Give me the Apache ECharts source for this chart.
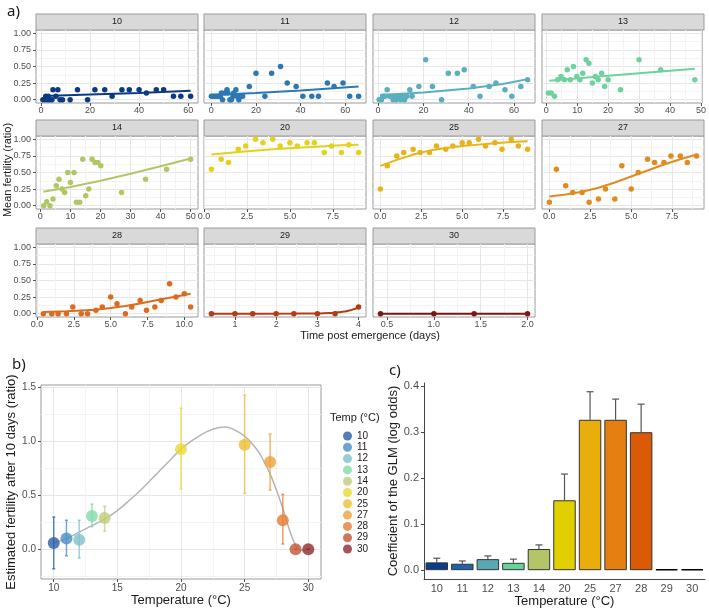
<!DOCTYPE html>
<html>
<head>
<meta charset="utf-8">
<script src="https://cdn.jsdelivr.net/npm/echarts@6/dist/echarts.min.js"></script>
<style>
html, body { margin: 0; padding: 0; background: #fff; }
#chart { width: 709px; height: 609px; }
</style>
</head>
<body>
<div id="chart"></div>
<script>
// temperatures (facets, points, bars)
const temps = ['10', '11', '12', '13', '14', '20', '25', '27', '28', '29', '30']

// a) mean fertility per day, one list of [day, ratio] per temperature
const f10Pts = [[0.8, 0], [1.7, 0], [2.7, 0], [3.5, 0], [4.5, 0], [2, 0.05], [3, 0.05], [4.9, 0.15], [6.1, 0.05], [6.9, 0.15], [7.8, 0], [8.8, 0], [11.9, 0], [14.9, 0.15], [19, 0], [22, 0.15], [26, 0.15], [29, 0.05], [33, 0.15], [36, 0.15], [40, 0.15], [43, 0.1], [47, 0.15], [50, 0.15], [54, 0.05], [57, 0.05], [61, 0.05]]
const f11Pts = [[0, 0.05], [0.8, 0.05], [1.6, 0.05], [2.4, 0.05], [3.2, 0.05], [4, 0.05], [4.5, 0.1], [5, 0], [6, 0.1], [7, 0.15], [7.4, 0.1], [8.3, 0], [9, 0], [9.7, 0.05], [10, 0.1], [11, 0.15], [11.5, 0.05], [12.3, 0], [13, 0.05], [14, 0.05], [17, 0.2], [20, 0.4], [24, 0.05], [27, 0.4], [31, 0.5], [34, 0.25], [38, 0.2], [41, 0.05], [45, 0.05], [48, 0.05], [52, 0.25], [55, 0.2], [59, 0.25], [62, 0.05], [66, 0.05]]
const f12Pts = [[0.5, 0], [1.5, 0], [2, 0.05], [3, 0.05], [4, 0.15], [5, 0.05], [6.6, 0], [7.3, 0.05], [8, 0], [9.2, 0.05], [10, 0], [11, 0.05], [11.7, 0], [12.7, 0.05], [14, 0.15], [15, 0.05], [18, 0.2], [21, 0.6], [24, 0.2], [28, 0], [31, 0.4], [35, 0.4], [38, 0.45], [42, 0.2], [45, 0.05], [49, 0.2], [52, 0.25], [56, 0.15], [59, 0.05], [63, 0.2], [66, 0.3]]
const f13Pts = [[0.7, 0.1], [1.6, 0.1], [2.7, 0.05], [3.7, 0.3], [4.8, 0.35], [5.9, 0.3], [6.8, 0.45], [7.8, 0.3], [8.8, 0.5], [9.9, 0.35], [10.9, 0.3], [11.8, 0.4], [12.9, 0.6], [13.8, 0.55], [14.9, 0.25], [15.9, 0.35], [16.8, 0.3], [17.9, 0.4], [18.9, 0.2], [20, 0.3], [24, 0.15], [30, 0.6], [37, 0.45], [48, 0.3]]
const f14Pts = [[1.1, 0], [2.1, 0.06], [3.2, 0], [4.2, 0.1], [5.3, 0.3], [6.2, 0.4], [7.2, 0.25], [8.1, 0.2], [9.1, 0.5], [10, 0.35], [11.2, 0.5], [12, 0.05], [13.1, 0.05], [14.1, 0.7], [15.1, 0.15], [16.1, 0.25], [17.2, 0.7], [18.2, 0.65], [19.1, 0.65], [20.1, 0.6], [27, 0.2], [35, 0.4], [42, 0.55], [50, 0.7]]
const f20Pts = [[0.43, 0.55], [1, 0.7], [1.43, 0.65], [2, 0.85], [2.43, 0.9], [3, 1], [3.43, 0.95], [4, 1], [4.43, 0.9], [5, 0.95], [5.43, 0.9], [6, 0.95], [6.43, 0.95], [7, 0.8], [7.43, 0.9], [8, 0.8], [8.43, 0.92], [9, 0.8]]
const f25Pts = [[0, 0.25], [0.43, 0.6], [1, 0.75], [1.43, 0.8], [2, 0.85], [2.43, 0.8], [3, 0.8], [3.43, 0.9], [4, 0.85], [4.43, 0.9], [5, 0.95], [5.43, 0.95], [6, 1], [6.43, 0.9], [7, 0.95], [7.43, 0.85], [8, 1], [8.43, 0.9], [9, 0.85]]
const f27Pts = [[0, 0.05], [0.43, 0.55], [1, 0.3], [1.43, 0.2], [2, 0.2], [2.43, 0.05], [3, 0.1], [3.43, 0.25], [4, 0.1], [4.43, 0.6], [5, 0.25], [5.43, 0.5], [6, 0.7], [6.43, 0.65], [7, 0.65], [7.43, 0.75], [8, 0.75], [8.43, 0.65], [9, 0.75]]
const f28Pts = [[0.43, 0], [1, 0], [1.43, 0], [2, 0], [2.43, 0.1], [3, 0], [3.43, 0], [4, 0.05], [4.43, 0.1], [5, 0.25], [5.43, 0.15], [6, 0], [6.43, 0.1], [7, 0.2], [7.43, 0.05], [8, 0.1], [8.43, 0.2], [9, 0.45], [9.43, 0.25], [10, 0.3], [10.43, 0.1]]
const f29Pts = [[0.43, 0], [1, 0], [1.43, 0], [2, 0], [2.43, 0], [3, 0], [3.43, 0], [4, 0.1]]
const f30Pts = [[0.43, 0], [1, 0], [1.43, 0], [2, 0]]

// a) fitted curves
const f10Fit = [[1, 0.055], [20, 0.077], [40, 0.102], [61, 0.133]]
const f11Fit = [[0, 0.07], [20, 0.1], [40, 0.14], [66, 0.2]]
const f12Fit = [[1, 0.07], [20, 0.11], [40, 0.17], [55, 0.235], [66, 0.31]]
const f13Fit = [[1, 0.285], [20, 0.36], [48, 0.465]]
const f14Fit = [[1, 0.21], [10, 0.28], [20, 0.375], [30, 0.48], [40, 0.595], [50, 0.71]]
const f20Fit = [[0.43, 0.77], [2, 0.81], [4, 0.85], [6, 0.88], [8, 0.91], [9, 0.92]]
const f25Fit = [[0, 0.6], [1, 0.69], [2, 0.77], [3, 0.83], [4, 0.87], [5, 0.9], [6, 0.92], [7, 0.94], [8, 0.96], [9, 0.97]]
const f27Fit = [[0, 0.14], [1, 0.17], [2, 0.21], [3, 0.27], [4, 0.35], [5, 0.44], [6, 0.53], [7, 0.62], [8, 0.7], [9, 0.77]]
const f28Fit = [[0.43, 0.025], [2, 0.035], [4, 0.06], [5, 0.085], [6, 0.115], [7, 0.155], [8, 0.2], [9, 0.24], [10, 0.28], [10.43, 0.3]]
const f29Fit = [[0.43, 0], [2.5, 0.001], [3, 0.004], [3.3, 0.011], [3.5, 0.02], [3.65, 0.032], [3.8, 0.05], [3.9, 0.07], [4, 0.1]]
const f30Fit = [[0.43, 0], [2, 0]]

// a) x tick labels per facet
const facetXTicks = [
  [0, 20, 40, 60], [0, 20, 40, 60], [0, 20, 40, 60], [0, 10, 20, 30, 40, 50], [0, 10, 20, 30, 40, 50],
  [0, 2.5, 5, 7.5], [0, 2.5, 5, 7.5], [0, 2.5, 5, 7.5], [0, 2.5, 5, 7.5, 10], [1, 2, 3, 4], [0.5, 1, 1.5, 2]
]
const facetYTicks = [0, 0.25, 0.5, 0.75, 1]

// b) estimated fertility after 10 days
const bTemps = [10, 11, 12, 13, 14, 20, 25, 27, 28, 29, 30]
const bFert = [0.06, 0.10, 0.09, 0.31, 0.29, 0.93, 0.97, 0.81, 0.27, 0, 0]
const bLow = [-0.18, -0.06, -0.08, 0.21, 0.17, 0.56, 0.52, 0.55, 0.05, 0, 0]
const bHigh = [0.30, 0.27, 0.27, 0.42, 0.40, 1.31, 1.43, 1.07, 0.51, 0, 0]
const bCurveX = [10, 11, 12, 13, 14, 15, 16, 17, 18, 19, 20, 21, 22, 23, 23.5, 24, 25, 26, 26.5, 27, 27.5, 28, 28.5, 29, 29.5, 30]
const bCurveY = [0.06, 0.10, 0.16, 0.22, 0.28, 0.36, 0.46, 0.57, 0.69, 0.81, 0.93, 1.02, 1.09, 1.13, 1.135, 1.12, 1.05, 0.92, 0.82, 0.70, 0.55, 0.38, 0.19, 0.04, -0.01, 0]
const bXTicks = [10, 15, 20, 25, 30]
const bYTicks = [0, 0.5, 1, 1.5]

// c) GLM coefficients
const cCoef = [0.017, 0.014, 0.024, 0.016, 0.046, 0.152, 0.327, 0.327, 0.300, 0.002, 0.002]
const cUpper = [0.026, 0.020, 0.031, 0.024, 0.055, 0.209, 0.388, 0.372, 0.361, null, null]
const cYTicks = [0, 0.1, 0.2, 0.3, 0.4]

// colours
const pointColors = ['#0b3a82', '#2b78b5', '#5aafbf', '#6fd29c', '#b0c766', '#e4d11b', '#e8b319', '#e18b1e', '#de6b1d', '#b53b15', '#7a1616']
const bColors = ['#2a5ea8', '#4a8ec4', '#7ec0cb', '#82dba8', '#bfcd7c', '#e8d835', '#ecbf35', '#eba03b', '#e67c33', '#c4542f', '#8f2b2b']
const barColors = ['#0b3d8c', '#1f63a8', '#5aa7b5', '#66d39a', '#b3c567', '#e2cf00', '#e9ad0c', '#e67f12', '#db5a05', '#111', '#111']

// layout
const facetPts = [f10Pts, f11Pts, f12Pts, f13Pts, f14Pts, f20Pts, f25Pts, f27Pts, f28Pts, f29Pts, f30Pts]
const facetFit = [f10Fit, f11Fit, f12Fit, f13Fit, f14Fit, f20Fit, f25Fit, f27Fit, f28Fit, f29Fit, f30Fit]
const facetXRange = [[-2, 64], [-3.3, 69.3], [-2.25, 69.25], [-1.35, 50.35], [-1.45, 52.45], [0, 9.43], [-0.45, 9.45], [-0.45, 9.45], [-0.07, 10.93], [0.25, 4.18], [0.35, 2.08]]
const facetXDec = [0, 0, 0, 0, 0, 1, 1, 1, 1, 0, 1]
const colLeft = [36, 204, 373, 542]
const rowTop = [30, 136, 244]
const panelW = 162, panelH = 73, stripH = 16
const FONT = 'Liberation Sans, Arial, sans-serif'
const TXT = '#4d4d4d'

function midpoints(ticks, range) {
  const step = ticks[1] - ticks[0]
  const out = []
  for (let v = ticks[0] - step / 2; v <= range[1]; v += step) {
    if (v >= range[0]) out.push(+v.toFixed(4))
  }
  return out
}

const grids = [], xAxes = [], yAxes = [], series = [], graphics = []
const noLine = { show: false, onZero: false }

facetPts.forEach((pts, i) => {
  const left = colLeft[i % 4], top = rowTop[Math.floor(i / 4)]
  const range = facetXRange[i]
  const dec = facetXDec[i]
  grids.push({ left, top, width: panelW, height: panelH, show: true, borderColor: '#9a9a9a', borderWidth: 1, backgroundColor: '#fff' })
  xAxes.push({
    gridIndex: i, type: 'value', min: range[0], max: range[1], position: 'bottom',
    axisLine: noLine,
    axisTick: { show: true, length: 3, lineStyle: { color: '#555' }, customValues: facetXTicks[i] },
    axisLabel: { customValues: facetXTicks[i], formatter: v => v.toFixed(dec), color: TXT, fontSize: 9, margin: 3, fontFamily: FONT },
    splitLine: { show: true, lineStyle: { color: '#e6e6e6', width: 1 } }
  })
  xAxes.push({
    gridIndex: i, type: 'value', min: range[0], max: range[1], position: 'top',
    axisLine: noLine,
    axisTick: { show: false, customValues: midpoints(facetXTicks[i], range) },
    axisLabel: { show: false, customValues: midpoints(facetXTicks[i], range) },
    splitLine: { show: true, lineStyle: { color: '#f3f3f3', width: 1 } }
  })
  yAxes.push({
    gridIndex: i, type: 'value', min: -0.05, max: 1.05, position: 'left',
    axisLine: noLine,
    axisTick: { show: i % 4 === 0, length: 3, lineStyle: { color: '#555' }, customValues: facetYTicks },
    axisLabel: { show: i % 4 === 0, customValues: facetYTicks, formatter: v => v.toFixed(2), color: TXT, fontSize: 9, margin: 5, fontFamily: FONT },
    splitLine: { show: true, lineStyle: { color: '#e6e6e6', width: 1 } }
  })
  yAxes.push({
    gridIndex: i, type: 'value', min: -0.05, max: 1.05, position: 'right',
    axisLine: noLine,
    axisTick: { show: false, customValues: [0.125, 0.375, 0.625, 0.875] },
    axisLabel: { show: false, customValues: [0.125, 0.375, 0.625, 0.875] },
    splitLine: { show: true, lineStyle: { color: '#f3f3f3', width: 1 } }
  })
  series.push({
    type: 'line', xAxisIndex: 2 * i, yAxisIndex: 2 * i, data: facetFit[i],
    smooth: i === 9 ? 0.3 : false, smoothMonotone: 'x', showSymbol: false, silent: true,
    lineStyle: { color: pointColors[i], width: 2 }, z: 3
  })
  series.push({
    type: 'scatter', xAxisIndex: 2 * i, yAxisIndex: 2 * i, data: pts,
    symbolSize: 5.5, itemStyle: { color: pointColors[i], opacity: 1 }, z: 4
  })
  graphics.push({
    type: 'rect', shape: { x: left, y: top - stripH, width: panelW, height: stripH },
    style: { fill: '#d9d9d9', stroke: '#9a9a9a', lineWidth: 1 }
  })
  graphics.push({
    type: 'text', x: left + panelW / 2, y: top - stripH / 2,
    style: { text: temps[i], fill: '#1a1a1a', font: '9px ' + FONT, align: 'center', verticalAlign: 'middle' }
  })
})

// b) panel
const bG = facetPts.length
grids.push({ left: 41, top: 385, width: 280, height: 194, show: true, borderColor: '#9a9a9a', borderWidth: 1, backgroundColor: '#fff' })
xAxes.push({
  gridIndex: bG, type: 'value', min: 9, max: 31, position: 'bottom',
  name: 'Temperature (°C)', nameLocation: 'middle', nameGap: 12,
  nameTextStyle: { fontSize: 13, color: '#1a1a1a', fontFamily: FONT },
  axisLine: noLine,
  axisTick: { length: 3, lineStyle: { color: '#555' }, customValues: bXTicks },
  axisLabel: { customValues: bXTicks, color: TXT, fontSize: 10, margin: 4, fontFamily: FONT },
  splitLine: { show: true, lineStyle: { color: '#e6e6e6' } }
})
xAxes.push({
  gridIndex: bG, type: 'value', min: 9, max: 31, position: 'top',
  axisLine: noLine,
  axisTick: { show: false, customValues: [12.5, 17.5, 22.5, 27.5] },
  axisLabel: { show: false, customValues: [12.5, 17.5, 22.5, 27.5] },
  splitLine: { show: true, lineStyle: { color: '#f3f3f3' } }
})
yAxes.push({
  gridIndex: bG, type: 'value', min: -0.275, max: 1.525, position: 'left',
  name: 'Estimated fertility after 10 days (ratio)', nameLocation: 'middle', nameGap: 17,
  nameTextStyle: { fontSize: 13, color: '#1a1a1a', fontFamily: FONT },
  axisLine: noLine,
  axisTick: { length: 3, lineStyle: { color: '#555' }, customValues: bYTicks },
  axisLabel: { customValues: bYTicks, formatter: v => v.toFixed(1), color: TXT, fontSize: 10, margin: 5, fontFamily: FONT },
  splitLine: { show: true, lineStyle: { color: '#e6e6e6' } }
})
yAxes.push({
  gridIndex: bG, type: 'value', min: -0.275, max: 1.525, position: 'right',
  axisLine: noLine,
  axisTick: { show: false, customValues: [-0.25, 0.25, 0.75, 1.25] },
  axisLabel: { show: false, customValues: [-0.25, 0.25, 0.75, 1.25] },
  splitLine: { show: true, lineStyle: { color: '#f3f3f3' } }
})
series.push({
  type: 'line', xAxisIndex: 2 * bG, yAxisIndex: 2 * bG,
  data: bCurveX.map((x, i) => [x, bCurveY[i]]),
  smooth: 0.4, showSymbol: false, silent: true,
  lineStyle: { color: '#b5b5b5', width: 1.5 }, z: 2
})
series.push({
  type: 'custom', xAxisIndex: 2 * bG, yAxisIndex: 2 * bG,
  data: bTemps.map((t, i) => [t, bLow[i], bHigh[i], i]),
  renderItem: (params, api) => {
    const idx = api.value(3)
    const hi = api.coord([api.value(0), api.value(2)])
    const lo = api.coord([api.value(0), api.value(1)])
    const st = { stroke: bColors[idx], lineWidth: 1.5, opacity: 0.75 }
    return {
      type: 'group', children: [
        { type: 'line', shape: { x1: hi[0], y1: hi[1], x2: lo[0], y2: lo[1] }, style: st },
        { type: 'line', shape: { x1: hi[0] - 1.5, y1: hi[1], x2: hi[0] + 1.5, y2: hi[1] }, style: st },
        { type: 'line', shape: { x1: lo[0] - 1.5, y1: lo[1], x2: lo[0] + 1.5, y2: lo[1] }, style: st }
      ]
    }
  },
  z: 3
})
bTemps.forEach((t, i) => {
  series.push({
    type: 'scatter', name: temps[i], xAxisIndex: 2 * bG, yAxisIndex: 2 * bG,
    data: [[t, bFert[i]]], symbolSize: 12,
    itemStyle: { color: bColors[i] }, z: 4
  })
})

// c) panel
const cG = bG + 1
grids.push({ left: 424, top: 383, width: 281, height: 197 })
xAxes.push({
  gridIndex: cG, type: 'category', data: temps,
  name: 'Temperature (°C)', nameLocation: 'middle', nameGap: 10,
  nameTextStyle: { fontSize: 13, color: '#1a1a1a', fontFamily: FONT },
  axisLine: { onZero: false, lineStyle: { color: '#444' } },
  axisTick: { alignWithLabel: true, length: 3, lineStyle: { color: '#444' } },
  axisLabel: { color: TXT, fontSize: 11, margin: 4, fontFamily: FONT, interval: 0 },
  splitLine: { show: false }
})
yAxes.push({
  gridIndex: cG, type: 'value', min: -0.0194, max: 0.407,
  name: 'Coefficient of the GLM (log odds)', nameLocation: 'middle', nameGap: 17,
  nameTextStyle: { fontSize: 13, color: '#1a1a1a', fontFamily: FONT },
  axisLine: { show: true, onZero: false, lineStyle: { color: '#444' } },
  axisTick: { show: true, length: 3, lineStyle: { color: '#444' }, customValues: cYTicks },
  axisLabel: { customValues: cYTicks, formatter: v => v.toFixed(1), color: TXT, fontSize: 11, margin: 5, fontFamily: FONT },
  splitLine: { show: false }
})
series.push({
  type: 'custom', xAxisIndex: 2 * bG + 2, yAxisIndex: 2 * bG + 2,
  data: cCoef.map((v, i) => [i, v, cUpper[i] == null ? v : cUpper[i]]),
  renderItem: (params, api) => {
    const top = api.coord([api.value(0), api.value(2)])
    const base = api.coord([api.value(0), api.value(1)])
    if (api.value(2) <= api.value(1)) return null
    const st = { stroke: '#555', lineWidth: 1.2 }
    return {
      type: 'group', children: [
        { type: 'line', shape: { x1: top[0], y1: top[1], x2: base[0], y2: base[1] }, style: st },
        { type: 'line', shape: { x1: top[0] - 3.5, y1: top[1], x2: top[0] + 3.5, y2: top[1] }, style: st }
      ]
    }
  },
  z: 2
})
series.push({
  type: 'bar', xAxisIndex: 2 * bG + 2, yAxisIndex: 2 * bG + 2,
  data: cCoef.map((v, i) => ({
    value: v,
    itemStyle: { color: barColors[i], borderColor: i >= 9 ? '#000' : '#333', borderWidth: i >= 9 ? 1.5 : 1 }
  })),
  barWidth: '88%', z: 3
})

// panel tags and shared titles
graphics.push(
  { type: 'text', x: 7, y: 4, style: { text: 'a)', fill: '#1a1a1a', font: '15px Noto Sans, sans-serif' } },
  { type: 'text', x: 12, y: 357, style: { text: 'b)', fill: '#1a1a1a', font: '15px Noto Sans, sans-serif' } },
  { type: 'text', x: 389, y: 363, style: { text: 'c)', fill: '#1a1a1a', font: '15px Noto Sans, sans-serif' } },
  { type: 'text', x: 8, y: 170, rotation: Math.PI / 2, style: { text: 'Mean fertility (ratio)', fill: '#1a1a1a', font: '11px ' + FONT, align: 'center', verticalAlign: 'middle' } },
  { type: 'text', x: 370, y: 336, style: { text: 'Time post emergence (days)', fill: '#1a1a1a', font: '11px ' + FONT, align: 'center', verticalAlign: 'middle' } },
  { type: 'text', x: 330, y: 412, style: { text: 'Temp (°C)', fill: '#1a1a1a', font: '11px ' + FONT } }
)

const chart = echarts.init(document.getElementById('chart'))
chart.setOption({
  animation: false,
  backgroundColor: '#fff',
  grid: grids,
  xAxis: xAxes,
  yAxis: yAxes,
  legend: {
    data: temps, orient: 'vertical', left: 338, top: 426,
    icon: 'circle', itemWidth: 9, itemHeight: 9, itemGap: 1.3,
    textStyle: { fontSize: 10, lineHeight: 10, color: '#1a1a1a', fontFamily: FONT },
    selectedMode: false
  },
  graphic: graphics,
  series
})
</script>
</body>
</html>
